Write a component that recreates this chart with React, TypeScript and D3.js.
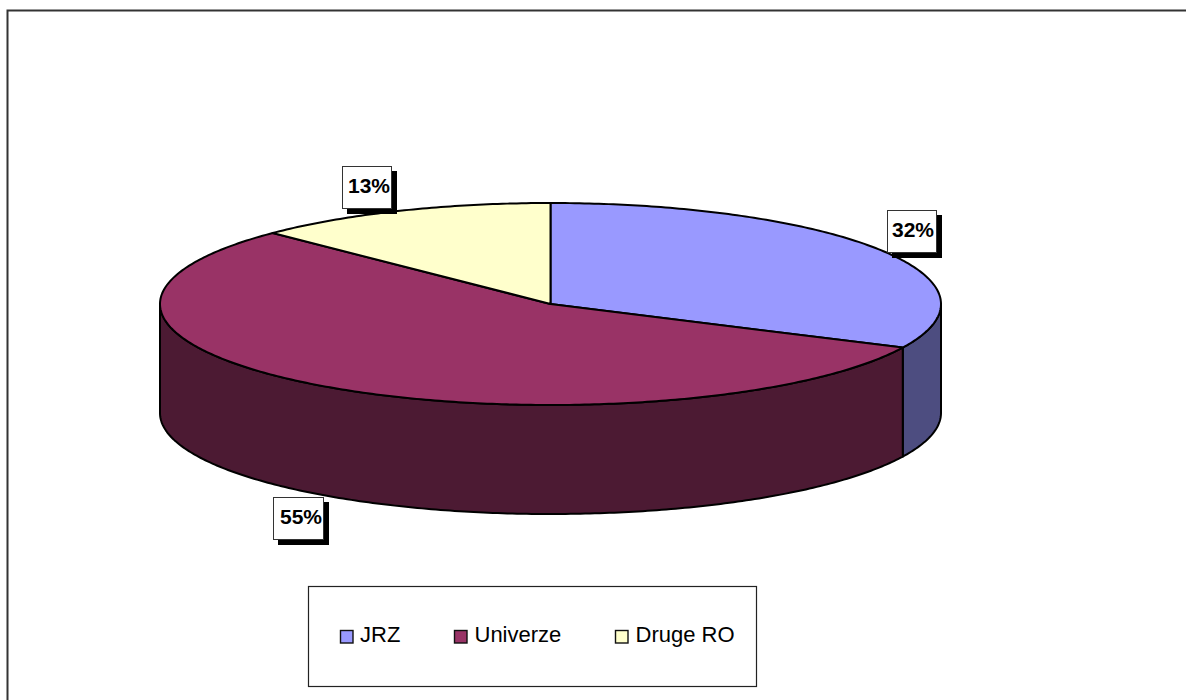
import React from "react";
import * as d3 from "d3";

const categories = ["JRZ", "Univerze", "Druge RO"];
const shares = [32.1, 55.3, 12.6];
const topColors = ["#9999ff", "#993366", "#ffffcc"];
const sideColors = ["#4d4d80", "#4c1a33", "#808066"];
const labels = ["32%", "55%", "13%"];
const labelBoxes = [
  { x: 887, y: 210, w: 50, h: 43, tx: 892, ty: 237 },
  { x: 273, y: 497, w: 51, h: 43, tx: 280, ty: 524 },
  { x: 342, y: 166, w: 50, h: 43, tx: 348, ty: 193 },
];
const legendPos = [
  { sw: 340, tx: 360 },
  { sw: 454, tx: 474.5 },
  { sw: 615, tx: 635.5 },
];

const W = 1186, H = 700;
const cx = 550.5, cy = 304, rx = 390.5, ry = 101, depth = 109;
const FONT = "Liberation Sans, Arial, sans-serif";

const px = d3.scaleLinear().domain([-1, 1]).range([cx - rx, cx + rx]);
const py = d3.scaleLinear().domain([-1, 1]).range([cy - ry, cy + ry]);
const pt = (a: number, dz = 0): [number, number] => [px(Math.sin(a)), py(-Math.cos(a)) + dz];

function sampled(a0: number, a1: number, dz = 0) {
  const n = Math.max(2, Math.ceil(Math.abs(a1 - a0) * 80));
  return d3.range(n + 1).map((i) => pt(a0 + ((a1 - a0) * i) / n, dz));
}

const line = d3.line();
const arcs = d3.pie<number>().sort(null)(shares);

export default function App() {
  return (
    <svg width={W} height={H} style={{ position: "absolute", left: 0, top: 0, background: "#fff" }}>
      <path d={`M7.5 700V10.5H1186`} fill="none" stroke="#333" strokeWidth={2} />
      {arcs.map((a, i) => {
        const s = Math.max(a.startAngle, Math.PI / 2);
        const e = Math.min(a.endAngle, (3 * Math.PI) / 2);
        if (e <= s) return null;
        const pts = [...sampled(s, e), ...sampled(e, s, depth)];
        return <path key={"s" + i} d={line(pts)! + "Z"} fill={sideColors[i]} stroke="#000" strokeWidth={2} strokeLinejoin="round" />;
      })}
      {arcs.map((a, i) => {
        const pts = [[cx, cy] as [number, number], ...sampled(a.startAngle, a.endAngle)];
        return <path key={"t" + i} d={line(pts)! + "Z"} fill={topColors[i]} stroke="#000" strokeWidth={2} strokeLinejoin="round" />;
      })}
      {labels.map((t, i) => {
        const b = labelBoxes[i];
        return (
          <g key={t}>
            <rect x={b.x + 5} y={b.y + 5} width={b.w} height={b.h} fill="#000" />
            <rect x={b.x + 0.5} y={b.y + 0.5} width={b.w - 1} height={b.h - 1} fill="#fff" stroke="#333" />
            <text x={b.tx} y={b.ty} fontFamily={FONT} fontWeight="bold" fontSize={21} fill="#000">{t}</text>
          </g>
        );
      })}
      <rect x={308.5} y={586.5} width={448} height={100} fill="#fff" stroke="#222" strokeWidth={1.2} />
      {categories.map((c, i) => (
        <g key={c}>
          <rect x={legendPos[i].sw + 0.5} y={630.5} width={12.5} height={12.5} fill={topColors[i]} stroke="#111" strokeWidth={1.4} />
          <text x={legendPos[i].tx} y={642} fontFamily={FONT} fontSize={22} fill="#000">{c}</text>
        </g>
      ))}
    </svg>
  );
}
